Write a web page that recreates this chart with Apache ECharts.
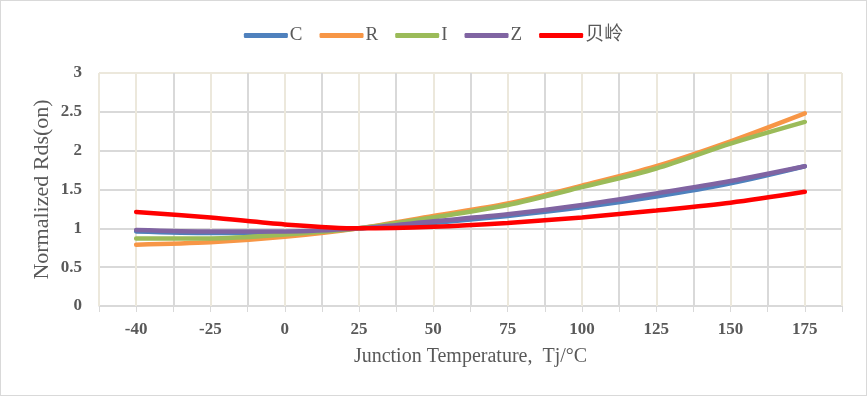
<!DOCTYPE html>
<html>
<head>
<meta charset="utf-8">
<script src="https://cdn.jsdelivr.net/npm/echarts@6/dist/echarts.min.js"></script>
<style>
  html, body { margin: 0; padding: 0; background: #fff; }
  #main { width: 867px; height: 396px; box-sizing: border-box; border: 1px solid #d9d9d9; }
</style>
</head>
<body>
<div id="main"></div>
<script>
// 数据
var temps = ['-40', '-25', '0', '25', '50', '75', '100', '125', '150', '175']
var seriesNames = ['C', 'R', 'I', 'Z', '贝岭']
var dataC = [0.96, 0.94, 0.94, 1.0, 1.07, 1.16, 1.27, 1.41, 1.58, 1.80]
var dataR = [0.79, 0.82, 0.89, 1.0, 1.16, 1.32, 1.55, 1.80, 2.12, 2.48]
var dataI = [0.87, 0.87, 0.92, 1.0, 1.14, 1.30, 1.53, 1.77, 2.09, 2.37]
var dataZ = [0.98, 0.96, 0.96, 1.0, 1.09, 1.18, 1.30, 1.45, 1.61, 1.80]
var dataBL = [1.21, 1.14, 1.05, 1.0, 1.02, 1.07, 1.14, 1.23, 1.33, 1.47]
var colors = ['#4f81bd', '#f79646', '#9bbb59', '#8064a2', '#ff0000']

var font = 'Liberation Serif, Times New Roman, Noto Sans CJK SC, serif'
var myChart = echarts.init(document.getElementById('main'))

var allData = [dataC, dataR, dataI, dataZ, dataBL]
var series = allData.map(function (d, i) {
  return {
    name: seriesNames[i],
    type: 'line',
    data: d,
    xAxisIndex: 0,
    smooth: 0.3,
    symbol: 'none',
    lineStyle: { width: 4.5, color: colors[i], cap: 'round' },
    itemStyle: { color: colors[i] }
  }
})

var option = {
  animation: false,
  color: colors,
  legend: {
    top: 20,
    left: 'center',
    icon: 'roundRect',
    itemWidth: 44,
    itemHeight: 5,
    itemGap: 17,
    textStyle: { fontFamily: font, fontSize: 19, color: '#595959', padding: [0, 0, 0, -3] },
    data: seriesNames
  },
  grid: { left: 98, right: 24, top: 72, bottom: 89 },
  xAxis: [
    {
      type: 'category',
      data: temps,
      boundaryGap: true,
      name: 'Junction Temperature,  Tj/°C',
      nameLocation: 'middle',
      nameGap: 41,
      nameMoveOverlap: false,
      nameTextStyle: { fontFamily: font, fontSize: 20, color: '#595959' },
      axisLine: { show: false },
      axisTick: { show: false },
      axisLabel: { fontFamily: font, fontSize: 17, fontWeight: 'bold', color: '#595959', margin: 15 },
      splitLine: { show: false }
    },
    {
      // 网格线：主网格在分类边界，次网格在分类中心
      type: 'value',
      position: 'bottom',
      min: -0.5,
      max: 9.5,
      interval: 0.5,
      axisLabel: { show: false },
      axisLine: { show: true, lineStyle: { color: '#d9d9d9', width: 1 } },
      axisTick: { show: true, length: 6, lineStyle: { color: '#d9d9d9' } },
      splitLine: {
        show: true,
        lineStyle: {
          width: 2,
          color: ['#ece8dc', '#ece8dc', '#d9d9d9', '#ece8dc', '#d9d9d9', '#ece8dc', '#d9d9d9',
            '#ece8dc', '#d9d9d9', '#ece8dc', '#d9d9d9', '#ece8dc', '#d9d9d9', '#ece8dc',
            '#d9d9d9', '#ece8dc', '#d9d9d9', '#ece8dc', '#d9d9d9', '#ece8dc', '#ece8dc']
        }
      }
    }
  ],
  yAxis: {
    type: 'value',
    min: 0,
    max: 3,
    interval: 0.5,
    name: 'Normalized Rds(on)',
    nameLocation: 'middle',
    nameGap: 46,
    nameMoveOverlap: false,
    nameTextStyle: { fontFamily: font, fontSize: 22, color: '#595959' },
    axisLine: { show: false },
    axisTick: { show: false },
    axisLabel: { fontFamily: font, fontSize: 17, fontWeight: 'bold', color: '#595959', margin: 17 },
    splitLine: {
      lineStyle: {
        width: 2,
        color: ['#d9d9d9', '#d9d9d9', '#d9d9d9', '#d9d9d9', '#d9d9d9', '#d9d9d9', '#ece8dc']
      }
    }
  },
  series: series
}
myChart.setOption(option)
</script>
</body>
</html>
